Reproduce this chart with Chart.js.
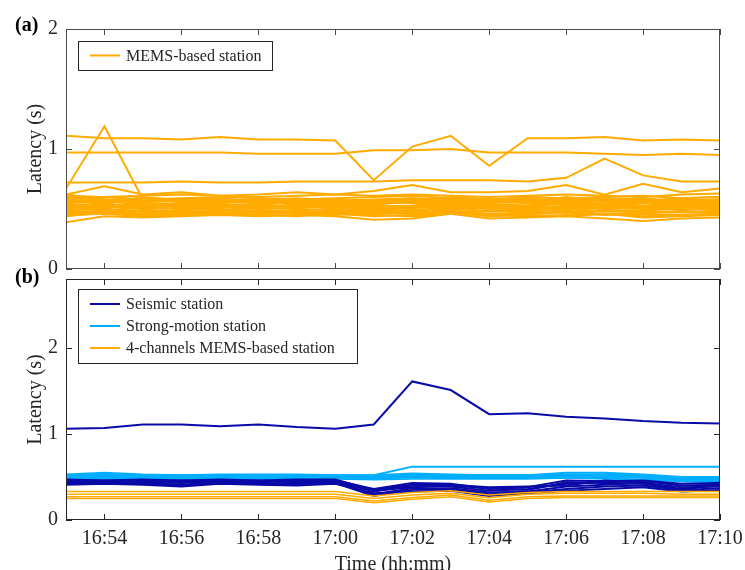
<!DOCTYPE html>
<html>
<head>
<meta charset="utf-8">
<script src="https://cdn.jsdelivr.net/npm/chart.js@4.4.1/dist/chart.umd.min.js"></script>
<style>
  html, body { margin: 0; padding: 0; background: #fff; }
  #wrap { position: relative; width: 745px; height: 570px; overflow: hidden; }
  canvas { position: absolute; left: 0; }
  #top { top: 0; }
  #bottom { top: 262px; }
</style>
</head>
<body>
<div id="wrap">
  <canvas id="top" width="745" height="285"></canvas>
  <canvas id="bottom" width="745" height="308"></canvas>
</div>
<script>
// Latency of station streams, 16:53 - 17:10, one sample a minute.
const minutes = [53, 54, 55, 56, 57, 58, 59, 60, 61, 62, 63, 64, 65, 66, 67, 68, 69, 70];
const xTicks = [54, 56, 58, 60, 62, 64, 66, 68, 70];
const xTickLabels = ['16:54', '16:56', '16:58', '17:00', '17:02', '17:04', '17:06', '17:08', '17:10'];
const yTicks = [0, 1, 2];

// (a) MEMS-based stations
const memsHigh = [1.11, 1.09, 1.09, 1.08, 1.10, 1.08, 1.08, 1.07, 0.74, 1.02, 1.11, 0.86, 1.09, 1.09, 1.10, 1.07, 1.08, 1.07];
const memsNearOne = [0.97, 0.97, 0.97, 0.97, 0.97, 0.96, 0.96, 0.96, 0.99, 0.99, 1.00, 0.97, 0.97, 0.97, 0.96, 0.95, 0.96, 0.95];
const memsSpike = [0.67, 1.19, 0.58, 0.57, 0.56, 0.57, 0.56, 0.55, 0.56, 0.57, 0.55, 0.56, 0.55, 0.57, 0.56, 0.55, 0.56, 0.55];
const memsBump = [0.62, 0.69, 0.62, 0.64, 0.61, 0.62, 0.64, 0.62, 0.65, 0.70, 0.64, 0.64, 0.65, 0.70, 0.62, 0.71, 0.64, 0.67];
const memsMid = [0.72, 0.72, 0.72, 0.73, 0.72, 0.72, 0.73, 0.73, 0.73, 0.74, 0.74, 0.74, 0.73, 0.76, 0.92, 0.78, 0.73, 0.73];
const memsBand = [
  [0.61, 0.60, 0.61, 0.62, 0.61, 0.60, 0.61, 0.62, 0.61, 0.62, 0.61, 0.60, 0.61, 0.62, 0.61, 0.60, 0.62, 0.63],
  [0.59, 0.60, 0.58, 0.59, 0.60, 0.59, 0.58, 0.59, 0.60, 0.61, 0.59, 0.58, 0.60, 0.59, 0.60, 0.61, 0.59, 0.60],
  [0.58, 0.57, 0.59, 0.58, 0.57, 0.58, 0.59, 0.57, 0.58, 0.59, 0.58, 0.59, 0.57, 0.58, 0.59, 0.58, 0.57, 0.58],
  [0.56, 0.58, 0.57, 0.56, 0.58, 0.57, 0.56, 0.57, 0.56, 0.58, 0.57, 0.56, 0.58, 0.57, 0.56, 0.57, 0.58, 0.56],
  [0.55, 0.56, 0.55, 0.54, 0.55, 0.56, 0.55, 0.54, 0.56, 0.55, 0.54, 0.55, 0.56, 0.55, 0.54, 0.56, 0.55, 0.57],
  [0.54, 0.53, 0.55, 0.54, 0.53, 0.54, 0.55, 0.53, 0.54, 0.56, 0.53, 0.54, 0.53, 0.55, 0.54, 0.53, 0.54, 0.55],
  [0.53, 0.54, 0.52, 0.53, 0.54, 0.52, 0.53, 0.54, 0.52, 0.53, 0.55, 0.52, 0.53, 0.54, 0.52, 0.55, 0.53, 0.52],
  [0.52, 0.51, 0.53, 0.52, 0.51, 0.53, 0.52, 0.51, 0.53, 0.52, 0.51, 0.53, 0.52, 0.51, 0.53, 0.52, 0.51, 0.53],
  [0.51, 0.52, 0.50, 0.51, 0.52, 0.50, 0.51, 0.52, 0.50, 0.51, 0.53, 0.50, 0.51, 0.52, 0.50, 0.51, 0.52, 0.50],
  [0.50, 0.49, 0.51, 0.50, 0.49, 0.51, 0.50, 0.49, 0.51, 0.50, 0.49, 0.51, 0.50, 0.49, 0.51, 0.50, 0.52, 0.51],
  [0.49, 0.50, 0.48, 0.49, 0.50, 0.48, 0.49, 0.50, 0.48, 0.49, 0.51, 0.48, 0.49, 0.50, 0.48, 0.49, 0.50, 0.49],
  [0.48, 0.47, 0.49, 0.48, 0.47, 0.49, 0.48, 0.47, 0.49, 0.48, 0.47, 0.49, 0.48, 0.47, 0.49, 0.48, 0.47, 0.48],
  [0.47, 0.48, 0.46, 0.47, 0.48, 0.46, 0.47, 0.48, 0.46, 0.47, 0.49, 0.46, 0.47, 0.48, 0.46, 0.47, 0.48, 0.47],
  [0.46, 0.47, 0.45, 0.46, 0.45, 0.47, 0.46, 0.45, 0.47, 0.46, 0.48, 0.45, 0.46, 0.47, 0.45, 0.46, 0.45, 0.46],
  [0.45, 0.46, 0.44, 0.45, 0.46, 0.45, 0.44, 0.46, 0.45, 0.44, 0.46, 0.45, 0.44, 0.45, 0.46, 0.44, 0.45, 0.46],
  [0.39, 0.44, 0.43, 0.44, 0.45, 0.44, 0.45, 0.44, 0.41, 0.42, 0.46, 0.42, 0.43, 0.44, 0.42, 0.40, 0.42, 0.43],
  [0.57, 0.55, 0.60, 0.57, 0.55, 0.58, 0.56, 0.55, 0.57, 0.59, 0.56, 0.57, 0.59, 0.56, 0.58, 0.57, 0.59, 0.60],
  [0.52, 0.55, 0.50, 0.52, 0.49, 0.51, 0.54, 0.50, 0.49, 0.52, 0.54, 0.51, 0.49, 0.53, 0.50, 0.52, 0.49, 0.51],
  [0.60, 0.58, 0.56, 0.58, 0.59, 0.56, 0.57, 0.58, 0.55, 0.57, 0.60, 0.58, 0.56, 0.60, 0.57, 0.59, 0.56, 0.58],
  [0.49, 0.51, 0.53, 0.50, 0.52, 0.54, 0.51, 0.53, 0.50, 0.48, 0.52, 0.54, 0.51, 0.50, 0.53, 0.52, 0.54, 0.52],
  [0.62, 0.58, 0.53, 0.55, 0.56, 0.55, 0.57, 0.56, 0.54, 0.56, 0.55, 0.57, 0.55, 0.54, 0.57, 0.56, 0.55, 0.54],
  [0.44, 0.47, 0.48, 0.46, 0.47, 0.45, 0.47, 0.46, 0.44, 0.45, 0.47, 0.44, 0.45, 0.44, 0.46, 0.43, 0.44, 0.45],
];

// (b) seismic / strong-motion / 4-channel MEMS
const seismicHigh = [1.06, 1.07, 1.11, 1.11, 1.09, 1.11, 1.08, 1.06, 1.11, 1.61, 1.51, 1.23, 1.24, 1.20, 1.18, 1.15, 1.13, 1.12];
const seismicBand = [
  [0.46, 0.46, 0.46, 0.45, 0.46, 0.46, 0.45, 0.46, 0.36, 0.43, 0.42, 0.36, 0.38, 0.46, 0.45, 0.46, 0.42, 0.43],
  [0.45, 0.44, 0.45, 0.46, 0.45, 0.44, 0.46, 0.45, 0.33, 0.40, 0.39, 0.34, 0.36, 0.42, 0.44, 0.45, 0.40, 0.41],
  [0.43, 0.44, 0.43, 0.41, 0.44, 0.43, 0.42, 0.44, 0.30, 0.37, 0.37, 0.32, 0.33, 0.39, 0.41, 0.43, 0.38, 0.39],
  [0.42, 0.43, 0.42, 0.40, 0.43, 0.42, 0.41, 0.43, 0.28, 0.35, 0.36, 0.30, 0.32, 0.36, 0.39, 0.40, 0.35, 0.37],
  [0.44, 0.45, 0.44, 0.43, 0.45, 0.45, 0.44, 0.44, 0.34, 0.38, 0.40, 0.37, 0.35, 0.44, 0.43, 0.42, 0.36, 0.40],
  [0.41, 0.42, 0.41, 0.39, 0.42, 0.41, 0.40, 0.42, 0.31, 0.33, 0.34, 0.28, 0.31, 0.34, 0.36, 0.38, 0.33, 0.35],
  [0.47, 0.46, 0.47, 0.46, 0.47, 0.46, 0.47, 0.47, 0.35, 0.41, 0.41, 0.38, 0.39, 0.40, 0.46, 0.44, 0.34, 0.44],
];
const strongBand = [
  [0.50, 0.51, 0.51, 0.51, 0.51, 0.51, 0.51, 0.51, 0.52, 0.62, 0.62, 0.62, 0.62, 0.62, 0.62, 0.62, 0.62, 0.62],
  [0.53, 0.55, 0.53, 0.52, 0.53, 0.53, 0.53, 0.52, 0.52, 0.54, 0.53, 0.52, 0.52, 0.55, 0.55, 0.53, 0.50, 0.50],
  [0.52, 0.53, 0.52, 0.52, 0.52, 0.52, 0.52, 0.52, 0.51, 0.53, 0.52, 0.52, 0.52, 0.53, 0.53, 0.52, 0.49, 0.49],
  [0.51, 0.52, 0.51, 0.50, 0.51, 0.51, 0.51, 0.51, 0.50, 0.52, 0.51, 0.51, 0.51, 0.52, 0.52, 0.51, 0.48, 0.48],
  [0.50, 0.51, 0.50, 0.49, 0.50, 0.50, 0.50, 0.50, 0.49, 0.51, 0.50, 0.50, 0.50, 0.51, 0.51, 0.50, 0.47, 0.47],
  [0.49, 0.50, 0.49, 0.48, 0.49, 0.49, 0.49, 0.49, 0.48, 0.50, 0.49, 0.49, 0.49, 0.50, 0.50, 0.49, 0.46, 0.45],
  [0.48, 0.48, 0.48, 0.47, 0.48, 0.48, 0.48, 0.48, 0.47, 0.48, 0.48, 0.48, 0.48, 0.49, 0.48, 0.47, 0.45, 0.44],
];
const mems4Band = [
  [0.33, 0.33, 0.33, 0.33, 0.33, 0.33, 0.33, 0.33, 0.28, 0.32, 0.34, 0.29, 0.32, 0.33, 0.33, 0.33, 0.33, 0.33],
  [0.30, 0.30, 0.30, 0.30, 0.30, 0.30, 0.30, 0.30, 0.25, 0.29, 0.31, 0.26, 0.30, 0.31, 0.31, 0.31, 0.30, 0.30],
  [0.27, 0.27, 0.27, 0.27, 0.27, 0.27, 0.27, 0.27, 0.22, 0.26, 0.29, 0.23, 0.27, 0.28, 0.28, 0.28, 0.28, 0.28],
  [0.25, 0.25, 0.25, 0.25, 0.25, 0.25, 0.25, 0.25, 0.20, 0.24, 0.27, 0.21, 0.25, 0.26, 0.26, 0.26, 0.26, 0.26],
];

const ORANGE = '#ffab00';
const NAVY = '#0a0aa8';
const SKY = '#00aeff';
const INK = '#262626';
const FONT = "'Liberation Serif', 'Times New Roman', serif";

Chart.defaults.font.family = FONT;
Chart.defaults.font.size = 20;
Chart.defaults.color = INK;

const pts = (ys) => ys.map((y, i) => ({ x: minutes[i], y }));
const line = (ys, color, w = 2) => ({ data: pts(ys), borderColor: color, borderWidth: w, pointRadius: 0, tension: 0, fill: false });

// box frame with inward ticks on all four sides, panel tag and in-plot legend (MATLAB look)
const framePlugin = {
  id: 'frameBox',
  afterDraw(chart, args, o) {
    const { ctx, chartArea: a, scales } = chart;
    const len = 6;
    ctx.save();
    ctx.strokeStyle = o.frameColor;
    ctx.lineWidth = 1;
    ctx.strokeRect(a.left + 0.5, a.top + 0.5, a.right - a.left - 1, a.bottom - a.top - 1);
    ctx.beginPath();
    xTicks.forEach((v) => {
      const px = Math.round(scales.x.getPixelForValue(v)) + 0.5;
      ctx.moveTo(px, a.bottom); ctx.lineTo(px, a.bottom - len);
      ctx.moveTo(px, a.top); ctx.lineTo(px, a.top + len);
    });
    yTicks.forEach((v) => {
      const py = Math.round(scales.y.getPixelForValue(v)) + 0.5;
      ctx.moveTo(a.left, py); ctx.lineTo(a.left + len, py);
      ctx.moveTo(a.right, py); ctx.lineTo(a.right - len, py);
    });
    ctx.stroke();

    ctx.fillStyle = '#000';
    ctx.font = `bold 20px ${FONT}`;
    ctx.textBaseline = 'alphabetic';
    ctx.fillText(o.panel, 15, o.panelY);

    const lg = o.legend;
    const rowH = 22;
    ctx.fillStyle = '#fff';
    ctx.fillRect(lg.x, lg.y, lg.w, lg.h);
    ctx.strokeStyle = INK;
    ctx.strokeRect(lg.x + 0.5, lg.y + 0.5, lg.w, lg.h);
    ctx.font = `16px ${FONT}`;
    ctx.textBaseline = 'middle';
    const first = lg.y + (lg.h - lg.items.length * rowH) / 2 + rowH / 2;
    lg.items.forEach((it, i) => {
      const cy = first + i * rowH;
      ctx.strokeStyle = it.color;
      ctx.lineWidth = 2;
      ctx.beginPath();
      ctx.moveTo(lg.x + 12, cy); ctx.lineTo(lg.x + 42, cy);
      ctx.stroke();
      ctx.fillStyle = INK;
      ctx.fillText(it.label, lg.x + 48, cy + 1);
    });
    ctx.restore();
  },
};

const xScale = (show) => ({
  type: 'linear', min: minutes[0], max: minutes[minutes.length - 1], display: show,
  grid: { display: false, drawTicks: false }, border: { display: false },
  afterBuildTicks: (s) => { s.ticks = xTicks.map((v) => ({ value: v })); },
  ticks: { autoSkip: false, maxRotation: 0, padding: 7, callback: (v, i) => xTickLabels[i] },
  title: { display: show, text: 'Time (hh:mm)', font: { size: 20, lineHeight: 1 }, padding: { top: 0, bottom: -5 } },
  afterFit: (s) => {
    s.height = show ? 50 : 0;
    s.paddingLeft = 0; s.paddingRight = 0;
  },
});
const yScale = (max) => ({
  min: 0, max,
  grid: { display: false, drawTicks: false }, border: { display: false },
  afterBuildTicks: (s) => { s.ticks = yTicks.map((v) => ({ value: v })); },
  ticks: { padding: 8 },
  title: { display: true, text: 'Latency (s)', padding: { top: 1, bottom: 0 } },
  afterFit: (s) => {
    s.width = 43;
    s.paddingTop = 0; s.paddingBottom = 0;
  },
});

// (a)
new Chart(document.getElementById('top'), {
  type: 'line',
  data: {
    datasets: [memsHigh, memsNearOne, memsSpike, memsBump, memsMid, ...memsBand].map((ys) => line(ys, ORANGE)),
  },
  options: {
    responsive: false, animation: false, events: [],
    layout: { padding: { left: 23, top: 29, right: 25, bottom: 16 } },
    scales: { x: xScale(false), y: yScale(2) },
    plugins: {
      legend: { display: false }, tooltip: { enabled: false },
      frameBox: {
        frameColor: '#4a4a4a', panel: '(a)', panelY: 31,
        legend: { x: 78, y: 41, w: 194, h: 29, items: [{ label: 'MEMS-based station', color: ORANGE }] },
      },
    },
  },
  plugins: [framePlugin],
});

// (b)
new Chart(document.getElementById('bottom'), {
  type: 'line',
  data: {
    datasets: [
      ...mems4Band.map((ys) => line(ys, ORANGE, 1.5)),
      line(seismicHigh, NAVY),
      ...seismicBand.map((ys) => line(ys, NAVY)),
      ...strongBand.map((ys) => line(ys, SKY)),
    ],
  },
  options: {
    responsive: false, animation: false, events: [],
    layout: { padding: { left: 23, top: 17, right: 25, bottom: 0 } },
    scales: { x: xScale(true), y: yScale(2.8) },
    plugins: {
      legend: { display: false }, tooltip: { enabled: false },
      frameBox: {
        frameColor: INK, panel: '(b)', panelY: 21,
        legend: {
          x: 78, y: 27, w: 279, h: 74,
          items: [
            { label: 'Seismic station', color: NAVY },
            { label: 'Strong-motion station', color: SKY },
            { label: '4-channels MEMS-based station', color: ORANGE },
          ],
        },
      },
    },
  },
  plugins: [framePlugin],
});
</script>
</body>
</html>
